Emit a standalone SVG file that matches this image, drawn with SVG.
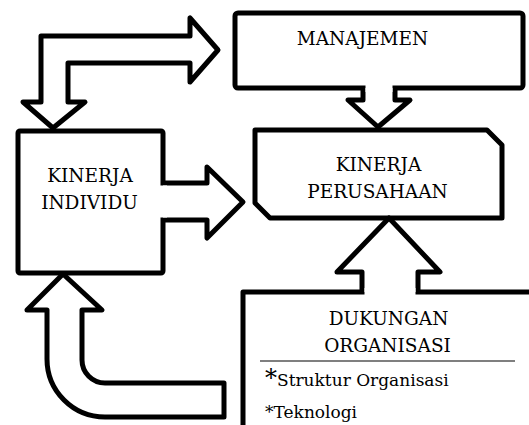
<svg xmlns="http://www.w3.org/2000/svg" width="529" height="425" viewBox="0 0 529 425">
<style>
.ln{fill:#fff;stroke:#000;stroke-width:5;stroke-linejoin:round}
.c{text-anchor:middle}
.cov{fill:#fff;stroke:none}
</style>
<rect width="529" height="425" fill="#fff"/>
<g id="manajemen">
<rect class="ln" x="235" y="13" width="288" height="75" rx="3"/>
<text class="c" x="362.5" y="45" style="font-family:'DejaVu Serif';font-size:18.5px">MANAJEMEN</text>
</g>
<g id="kinerja-perusahaan">
<path class="ln" d="M255,130 L487,130 L502,145 L502,218 L270,218 L255,203 Z"/>
<text class="c" x="378.5" y="171" style="font-family:'DejaVu Serif';font-size:18.5px">KINERJA</text>
<text class="c" x="377.5" y="198" style="font-family:'DejaVu Serif';font-size:18.5px">PERUSAHAAN</text>
</g>
<g id="kinerja-individu">
<rect class="ln" x="18" y="131" width="145" height="142" rx="2"/>
<text class="c" x="90" y="182" style="font-family:'DejaVu Serif';font-size:18.5px">KINERJA</text>
<text class="c" x="89.5" y="209" style="font-family:'DejaVu Serif';font-size:18.5px">INDIVIDU</text>
</g>
<g id="dukungan-organisasi">
<path class="ln" d="M243,432 L243,292 L535,292" fill="none"/>
<text class="c" x="388.5" y="325" style="font-family:'DejaVu Serif';font-size:18.5px">DUKUNGAN</text>
<text class="c" x="387.5" y="352" style="font-family:'DejaVu Serif';font-size:18.5px">ORGANISASI</text>
<line x1="260" y1="361" x2="515" y2="361" stroke="#555" stroke-width="1.5"/>
<text x="265" y="386" style="font-family:'DejaVu Serif';font-size:17px"><tspan style="font-size:24px">*</tspan>Struktur Organisasi</text>
<text x="265" y="418" style="font-family:'DejaVu Serif';font-size:17px">*Teknologi</text>
</g>
<g id="connectors">
<path class="ln" d="M53,128 L85,102 L68,102 L68,63 L190,63 L190,82 L218,50 L190,18 L190,36 L41,36 L41,102 L23,102 Z"/>
<path class="ln" d="M363,88 L363,100 L348,100 L378,127 L410,100 L395,100 L395,88"/>
<rect class="cov" x="365.5" y="84" width="27" height="8"/>
<path class="ln" d="M163,183 L207,183 L207,167 L243,202 L207,238 L207,220 L163,220"/>
<rect class="cov" x="158" y="185.5" width="9" height="32"/>
<path class="ln" d="M362,292 L362,272 L337,272 L389,218 L440,272 L418,272 L418,292"/>
<rect class="cov" x="364.5" y="288" width="51" height="8"/>
<path class="ln" d="M63,274 L102,310 L82,310 L82,360 A23,23 0 0 0 105,383 L224,383 L224,417 L105,417 A58,58 0 0 1 47,359 L47,310 L27,310 Z"/>
</g>
</svg>
